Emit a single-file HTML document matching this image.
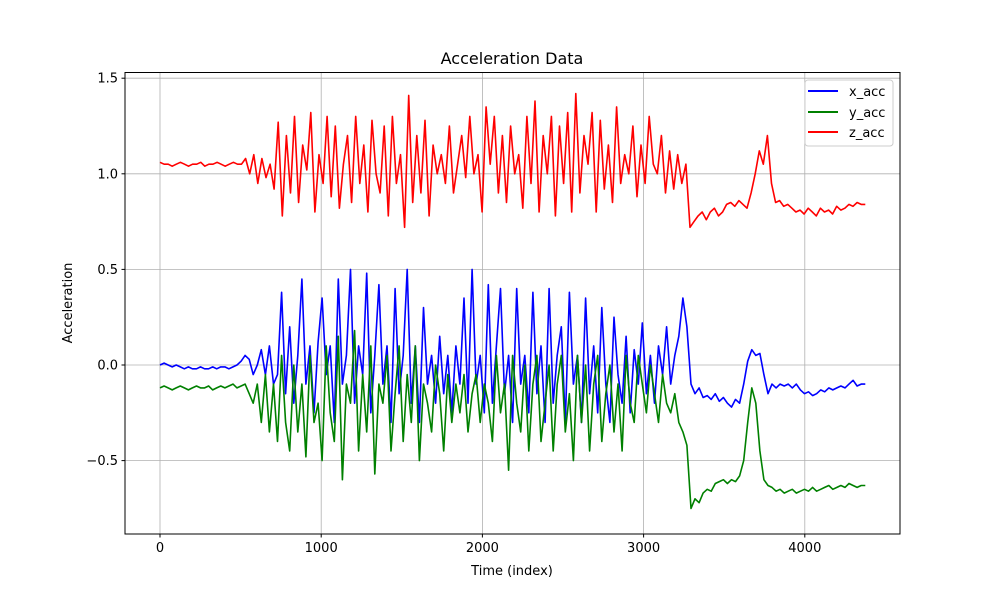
<!DOCTYPE html>
<html><head><meta charset="utf-8"><style>
body{margin:0;background:#fff;}
svg{display:block;font-family:"DejaVu Sans","Liberation Sans",sans-serif;}
</style></head><body>
<svg id="chart" width="1000" height="600" viewBox="0 0 1000 600">
<rect x="0" y="0" width="1000" height="600" fill="#fff"/>
<g id="grid"></g>
<g id="series"></g>
<rect x="125" y="72.5" width="775" height="461.5" fill="none" stroke="#000" stroke-width="1"/>
<g id="ticks"></g>
<text x="512" y="64" font-size="16" text-anchor="middle">Acceleration Data</text>
<text x="512" y="575" font-size="13" text-anchor="middle">Time (index)</text>
<text x="72" y="303" font-size="13" text-anchor="middle" transform="rotate(-90 72 303)">Acceleration</text>
<g>
<rect x="805" y="80" width="88" height="66" rx="3" fill="#fff" fill-opacity="0.8" stroke="#ccc"/>
<g><line x1="808" y1="91" x2="838" y2="91" stroke="blue" stroke-width="2"/><text x="849" y="96" font-size="13">x_acc</text></g>
<g><line x1="808" y1="112" x2="838" y2="112" stroke="green" stroke-width="2"/><text x="849" y="117" font-size="13">y_acc</text></g>
<g><line x1="808" y1="132" x2="838" y2="132" stroke="red" stroke-width="2"/><text x="849" y="137" font-size="13">z_acc</text></g>
</g>
</svg>
<script>
const xTicks=[0,1000,2000,3000,4000];
const yTicks=[-0.5,0.0,0.5,1.0,1.5];
const yTickLabels=["−0.5","0.0","0.5","1.0","1.5"];
const maxIndex=4375;
const zAcc=[1.06,1.05,1.05,1.04,1.05,1.06,1.05,1.04,1.05,1.05,1.06,1.04,1.05,1.05,1.06,1.05,1.04,1.05,1.06,1.05,1.05,
1.08,1.0,1.1,0.95,1.08,0.98,1.05,0.92,
1.27,0.78,1.2,0.9,1.3,0.85,1.15,1.02,1.32,0.8,1.1,0.95,1.3,0.88,1.25,0.82,1.05,1.2,0.85,1.3,0.95,1.15,0.8,1.28,1.0,0.9,1.25,0.78,1.3,0.95,1.1,0.72,1.41,0.85,1.2,0.9,1.28,0.78,1.15,1.0,1.1,0.95,1.25,0.9,1.05,1.2,0.98,1.3,1.0,1.1,0.8,1.35,1.05,1.3,0.9,1.2,0.85,1.25,1.0,1.1,0.82,1.3,0.95,1.38,0.8,1.2,1.0,1.3,0.78,1.25,0.95,1.32,0.8,1.42,0.9,1.2,1.05,1.32,0.8,1.28,0.92,1.15,0.85,1.35,0.95,1.1,1.0,1.25,0.88,1.15,0.95,1.3,1.05,1.0,1.2,0.9,1.12,0.92,1.1,0.95,1.05,
0.72,0.75,0.78,0.8,0.76,0.8,0.82,0.78,0.8,0.84,0.85,0.83,0.86,0.84,0.82,0.9,1.0,1.12,1.05,1.2,0.95,0.85,0.86,0.83,0.84,0.82,0.8,0.81,0.79,0.82,0.8,0.78,0.82,0.8,0.81,0.79,0.83,0.81,0.82,0.84,0.83,0.85,0.84,0.84];
const xAcc=[0.0,0.01,0.0,-0.01,0.0,-0.01,-0.02,-0.01,-0.02,-0.02,-0.01,-0.02,-0.02,-0.01,-0.02,-0.01,-0.01,-0.02,-0.01,0.0,0.02,
0.05,0.03,-0.05,0.0,0.08,-0.05,0.1,-0.1,
-0.05,0.38,-0.15,0.2,-0.2,0.05,0.45,-0.1,0.1,-0.25,0.12,0.35,-0.05,0.1,-0.3,0.45,-0.1,0.05,0.5,-0.2,0.1,-0.05,0.48,-0.25,0.05,0.42,-0.1,0.1,-0.3,0.4,-0.15,0.05,0.5,-0.2,0.1,-0.3,0.3,-0.1,0.05,-0.2,0.15,-0.15,0.05,-0.25,0.1,-0.1,0.35,-0.2,0.5,-0.1,0.05,-0.25,0.42,-0.2,0.1,0.4,-0.15,0.05,-0.3,0.4,-0.1,0.05,-0.25,0.38,-0.15,0.1,-0.3,0.4,-0.2,0.05,0.2,-0.3,0.38,-0.1,0.05,-0.3,0.35,-0.15,0.1,-0.25,0.3,-0.1,-0.3,0.25,-0.05,-0.2,0.15,-0.25,0.08,-0.1,0.22,-0.15,0.05,-0.2,0.1,-0.05,0.2,-0.1,0.05,0.15,0.35,
0.2,-0.1,-0.15,-0.12,-0.17,-0.16,-0.18,-0.15,-0.19,-0.17,-0.2,-0.22,-0.18,-0.2,-0.1,0.02,0.08,0.05,0.06,-0.05,-0.15,-0.1,-0.12,-0.1,-0.11,-0.1,-0.12,-0.1,-0.13,-0.15,-0.14,-0.16,-0.15,-0.13,-0.14,-0.12,-0.13,-0.12,-0.11,-0.12,-0.1,-0.08,-0.11,-0.1,-0.1];
const yAcc=[-0.12,-0.11,-0.12,-0.13,-0.12,-0.11,-0.12,-0.13,-0.12,-0.11,-0.12,-0.12,-0.11,-0.13,-0.12,-0.11,-0.12,-0.11,-0.1,-0.12,-0.11,
-0.1,-0.15,-0.2,-0.1,-0.3,-0.05,-0.35,-0.1,
-0.4,0.05,-0.3,-0.45,0.0,-0.35,-0.1,-0.48,0.05,-0.3,-0.2,-0.5,0.1,-0.25,-0.4,0.15,-0.6,-0.1,-0.2,0.18,-0.45,-0.05,-0.35,0.1,-0.57,-0.1,-0.2,0.05,-0.45,-0.15,0.1,-0.4,-0.05,-0.3,0.1,-0.5,-0.1,-0.2,-0.35,0.0,-0.15,-0.45,-0.05,-0.3,-0.1,-0.25,-0.05,-0.35,-0.15,-0.05,-0.3,-0.1,-0.2,-0.4,0.05,-0.25,-0.1,-0.55,0.05,-0.2,-0.35,0.0,-0.45,-0.1,0.05,-0.4,-0.2,0.0,-0.45,-0.1,0.05,-0.35,-0.15,-0.5,0.05,-0.3,0.0,-0.45,-0.1,0.05,-0.4,-0.15,0.0,-0.35,-0.1,-0.45,0.05,-0.2,-0.3,0.05,-0.1,-0.25,0.0,-0.15,-0.3,-0.05,-0.2,-0.25,-0.15,-0.3,-0.35,
-0.42,-0.75,-0.7,-0.72,-0.67,-0.65,-0.66,-0.62,-0.61,-0.6,-0.62,-0.6,-0.61,-0.58,-0.5,-0.3,-0.12,-0.2,-0.45,-0.6,-0.63,-0.64,-0.66,-0.65,-0.67,-0.66,-0.65,-0.67,-0.66,-0.65,-0.66,-0.64,-0.66,-0.65,-0.64,-0.63,-0.65,-0.64,-0.63,-0.64,-0.62,-0.63,-0.64,-0.63,-0.63];

const NS="http://www.w3.org/2000/svg";
function xs(v){return 160+v*0.1612;}
function ys(v){return 365-v*191.2;}
const grid=document.getElementById('grid'),ticks=document.getElementById('ticks'),ser=document.getElementById('series');
function mk(tag,attrs,parent){const e=document.createElementNS(NS,tag);for(const k in attrs)e.setAttribute(k,attrs[k]);parent.appendChild(e);return e;}
xTicks.forEach(t=>{const x=xs(t);
 const g=mk('line',{x1:x,x2:x,y1:72,y2:534,stroke:'#b0b0b0','stroke-width':0.8},grid);
 
 
 mk('line',{x1:x,x2:x,y1:534,y2:537.5,stroke:'#000'},ticks);
 const tx=mk('text',{x:x,y:552,'font-size':13,'text-anchor':'middle'},ticks);tx.textContent=t;
 
 
});
yTicks.forEach((t,i)=>{const y=ys(t);
 const g=mk('line',{x1:125,x2:900,y1:y,y2:y,stroke:'#b0b0b0','stroke-width':0.8},grid);
 
 
 mk('line',{x1:121.5,x2:125,y1:y,y2:y,stroke:'#000'},ticks);
 const tx=mk('text',{x:118,y:y+4.5,'font-size':13,'text-anchor':'end'},ticks);tx.textContent=yTickLabels[i];
 
 
});
function draw(arr,color,name){
 const n=arr.length;
 const d=arr.map((v,i)=>(i?'L':'M')+xs(i*maxIndex/(n-1)).toFixed(1)+','+ys(v).toFixed(1)).join('');
 const p=mk('path',{d:d,fill:'none',stroke:color,'stroke-width':1.6,'stroke-linejoin':'round'},ser);
 
 
}
draw(xAcc,'blue','x-acc-line');
draw(yAcc,'green','y-acc-line');
draw(zAcc,'red','z-acc-line');
</script>
</body></html>
